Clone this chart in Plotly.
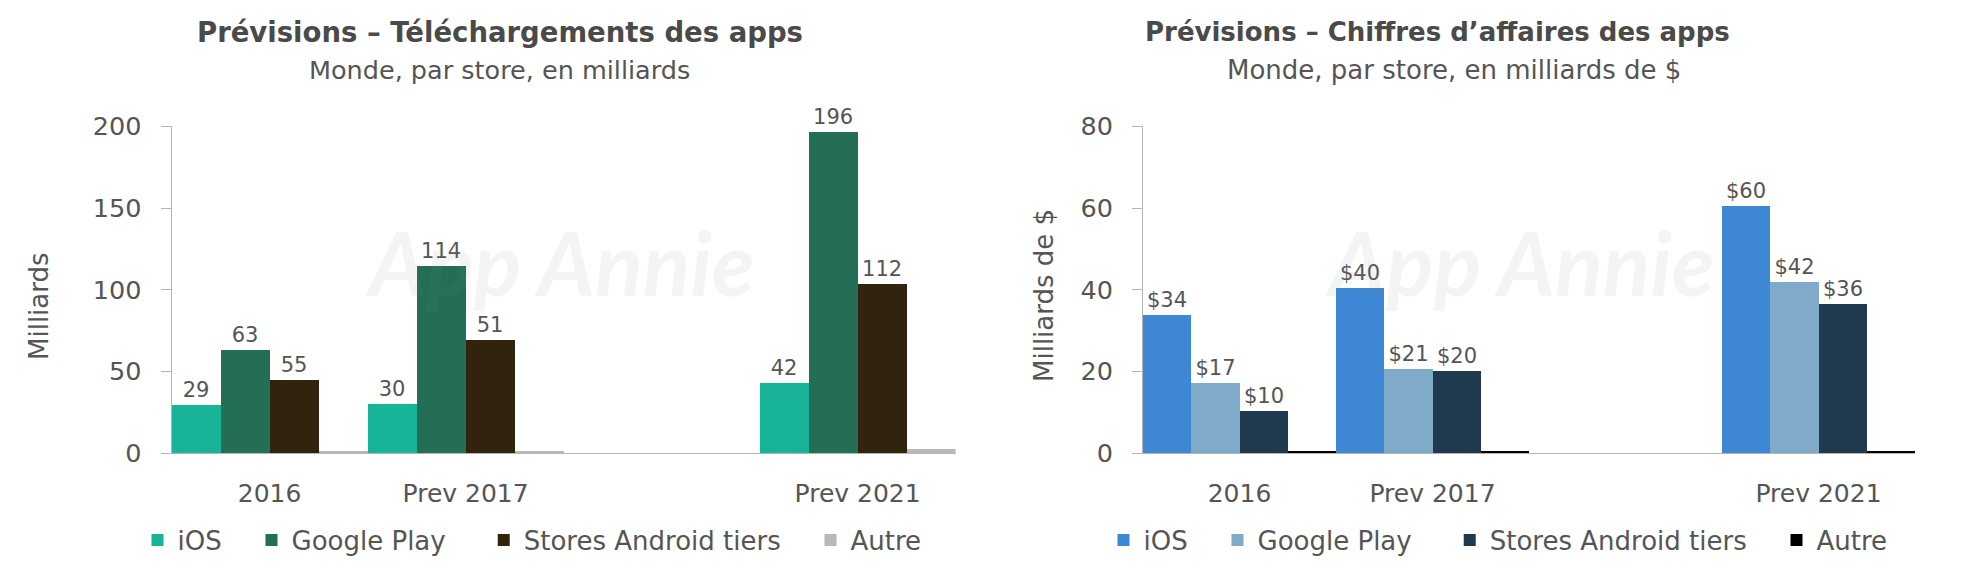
import plotly.graph_objects as go
from plotly.subplots import make_subplots

# Data (bar heights differ from some printed labels in the source)
years = ["2016", "Prev 2017", " ", "Prev 2021"]
stores = ["iOS", "Google Play", "Stores Android tiers", "Autre"]

dl_ios = [29.2, 29.8, None, 42.4]
dl_play = [62.9, 114.3, None, 196.6]
dl_tiers = [44.6, 69, None, 103.2]
dl_other = [0.7, 1, None, 2.5]
dl_ios_labels = ["29", "30", "", "42"]
dl_play_labels = ["63", "114", "", "196"]
dl_tiers_labels = ["55", "51", "", "112"]

rev_ios = [33.8, 40.4, None, 60.3]
rev_play = [17, 20.6, None, 41.7]
rev_tiers = [10.2, 20, None, 36.4]
rev_other = [0.4, 0.4, None, 0.4]
rev_ios_labels = ["$34", "$40", "", "$60"]
rev_play_labels = ["$17", "$21", "", "$42"]
rev_tiers_labels = ["$10", "$20", "", "$36"]

# Configuration
PAGE_MARGIN = 8  # default body margin of the page
W, H = 1983 - 2 * PAGE_MARGIN, 583 - 2 * PAGE_MARGIN
# margins big enough that legends and notes outside the paper area do not push them
ML, MR, MT, MB = 60, 30, 30, 70
FONT = "DejaVu Sans"
TEXT_COLOR = "#555555"
AXIS_COLOR = "#b5b5b5"
DL_COLORS = ["#17b498", "#236e55", "#32230f", "#b8b8b8"]
REV_COLORS = ["#3e87d5", "#7faaca", "#1f394e", "#000000"]
# legend entries are unevenly spaced in the source, plotly only has one gap
LEGEND_PAD = [3, 4, 3, 0]


def px_x(x):
    return (x - PAGE_MARGIN - ML) / (W - ML - MR)


def px_y(y):
    return 1 - (y - PAGE_MARGIN - MT) / (H - MT - MB)


fig = make_subplots(rows=1, cols=2)

dl_series = [dl_ios, dl_play, dl_tiers, dl_other]
dl_labels = [dl_ios_labels, dl_play_labels, dl_tiers_labels, None]
rev_series = [rev_ios, rev_play, rev_tiers, rev_other]
rev_labels = [rev_ios_labels, rev_play_labels, rev_tiers_labels, None]

for i, store in enumerate(stores):
    name = store + "\u00a0" * LEGEND_PAD[i]
    fig.add_trace(go.Bar(
        x=years, y=dl_series[i], name=name, marker=dict(color=DL_COLORS[i], line_width=0),
        text=dl_labels[i], textposition="outside", cliponaxis=False,
        textfont=dict(size=21, color=TEXT_COLOR, family=FONT), legend="legend",
    ), row=1, col=1)
    fig.add_trace(go.Bar(
        x=years, y=rev_series[i], name=name, marker=dict(color=REV_COLORS[i], line_width=0),
        text=rev_labels[i], textposition="outside", cliponaxis=False,
        textfont=dict(size=21, color=TEXT_COLOR, family=FONT), legend="legend2",
    ), row=1, col=2)

axis_x = dict(
    type="category", categoryorder="array", categoryarray=years, showgrid=False,
    showline=True, linecolor=AXIS_COLOR, linewidth=1, ticks="", ticklabelstandoff=18,
    tickfont=dict(size=25, color=TEXT_COLOR, family=FONT), zeroline=False,
)
axis_y = dict(
    showgrid=False, showline=True, linecolor=AXIS_COLOR, linewidth=1, ticks="outside",
    ticklen=10, tickcolor=AXIS_COLOR, ticklabelstandoff=14, zeroline=False,
    tickfont=dict(size=25.5, color=TEXT_COLOR, family=FONT),
)
legend_base = dict(
    orientation="h", xanchor="center", yanchor="middle",
    font=dict(size=26, color=TEXT_COLOR, family=FONT), itemwidth=30,
)

fig.update_layout(
    width=W, height=H, margin=dict(l=ML, r=MR, t=MT, b=MB, autoexpand=False),
    paper_bgcolor="white", plot_bgcolor="white",
    barmode="group", bargap=0, bargroupgap=0,
    xaxis=dict(axis_x, domain=[px_x(171.6), px_x(955.6)]),
    xaxis2=dict(axis_x, domain=[px_x(1143), px_x(1915)]),
    yaxis=dict(axis_y, range=[0, 200], tickvals=[0, 50, 100, 150, 200]),
    yaxis2=dict(axis_y, range=[0, 80], tickvals=[0, 20, 40, 60, 80]),
    legend=dict(legend_base, x=px_x(532), y=px_y(540)),
    legend2=dict(legend_base, x=px_x(1498), y=px_y(540)),
)
fig.update_yaxes(domain=[px_y(453), px_y(126.4)])


def note(text, x, y, size, bold=False, angle=0, color=TEXT_COLOR, family=FONT):
    label = f"<b>{text}</b>" if bold else text
    fig.add_annotation(
        xref="paper", yref="paper", x=px_x(x), y=px_y(y), text=label, showarrow=False,
        textangle=angle, font=dict(size=size, color=color, family=family),
        xanchor="center", yanchor="middle",
    )


note("Prévisions – Téléchargements des apps", 500, 32, 27.5, bold=True, color="#4a4a4a")
note("Monde, par store, en milliards", 499, 70, 25.5)
note("Prévisions – Chiffres d’affaires des apps", 1437, 32, 26, bold=True, color="#4a4a4a")
note("Monde, par store, en milliards de $", 1454, 70, 26)
note("Milliards", 39, 306, 26, angle=-90)
note("Milliards de $", 1044, 296, 26, angle=-90)

# Faint watermark over the plots
WATERMARK = "rgba(120,140,140,0.09)"
note("<b><i>App Annie</i></b>", 560, 262, 88, color=WATERMARK, family="Lato")
note("<b><i>App Annie</i></b>", 1520, 262, 88, color=WATERMARK, family="Lato")

fig.write_html("out.html")
